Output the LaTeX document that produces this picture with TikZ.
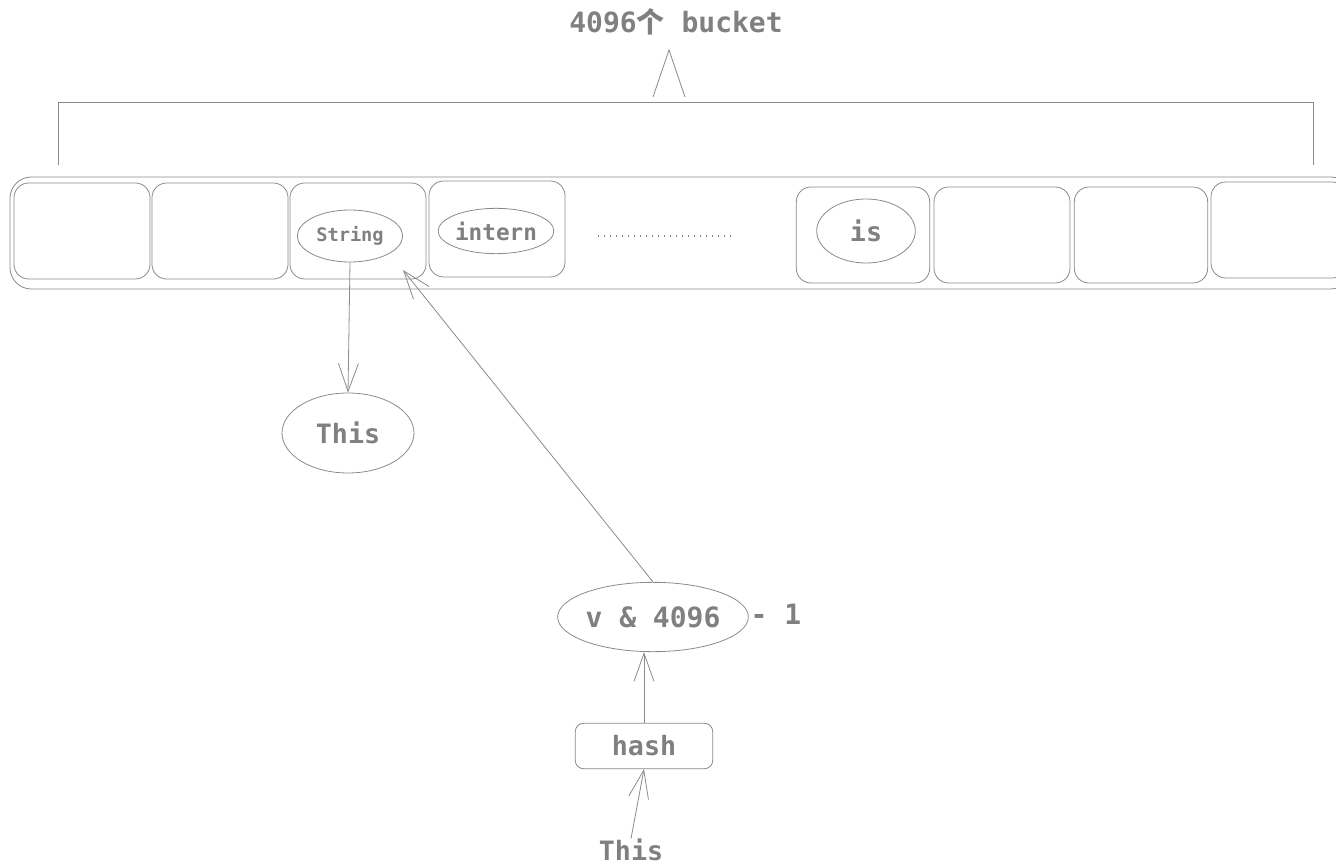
\documentclass[tikz,border=0pt]{standalone}
\usepackage{fontspec}
\setmainfont{DejaVu Sans Mono}
\newfontfamily\cjk{Noto Sans CJK SC}
\usetikzlibrary{shapes.geometric,arrows.meta}

\definecolor{pen}{HTML}{8A8A8A}
\definecolor{ink}{HTML}{808080}

\tikzset{
	cell/.style={draw=pen, rounded corners=11pt, minimum width=102pt, minimum height=72pt, inner sep=0pt},
	word/.style={draw=pen, ellipse, inner sep=0pt, text=ink},
	label/.style={text=ink, inner sep=0pt},
}

\begin{document}
\begin{tikzpicture}[x=0.75pt, y=-0.75pt, line width=0.6pt, >={Straight Barb[length=21pt,width=15pt]}]

	\useasboundingbox (0,0) rectangle (1336,867);

	% bucket count on top
	\node[label, font=\fontsize{21}{24}\bfseries] (count) at (676,22) {4096{\cjk 个} bucket};
	\draw[pen] (653,97) -- (669,50) -- (685,97);
	\coordinate (L) at (58,165);
	\coordinate (R) at (1313,165);
	\draw[pen] (L) -- (58,102) -- (1313,102) -- (R);

	% the table row
	\draw[pen, rounded corners=16pt] (10,177) rectangle (1352,289);

	\node[cell] (b1) at (82,231) {};
	\node[cell] (b2) at (220,231) {};
	\node[cell] (b3) at (358,231) {};
	\node[cell] (b4) at (497,229) {};
	\node[cell, minimum width=100pt] (b5) at (863,235) {};
	\node[cell] (b6) at (1002,235) {};
	\node[cell, minimum width=100pt] (b7) at (1141,235) {};
	\node[cell] (b8) at (1279,230) {};

	\node[word, minimum width=79pt, minimum height=39pt, font=\fontsize{14}{16}\bfseries] (String) at (350,236) {String};
	\node[word, minimum width=84pt, minimum height=34pt, font=\fontsize{17}{20}\bfseries] (intern) at (496,231) {intern};
	\node[word, minimum width=74pt, minimum height=48pt, font=\fontsize{20}{24}\bfseries] (is) at (866,231) {is};

	\draw[ink, line width=1.1pt, dash pattern=on 1.1pt off 3.4pt] (598,236) -- (735,236);

	% lookup
	\node[word, minimum width=99pt, minimum height=60pt, font=\fontsize{20}{24}\bfseries] (found) at (348,433) {This};
	\draw[pen, ->] (String.south) -- (found.north);

	\coordinate (slot) at (403,270);
	\node[word, minimum width=135pt, minimum height=52pt, font=\fontsize{21}{24}\bfseries] (mask) at (653,617) {v \& 4096};
	\node[label, font=\fontsize{21}{24}\bfseries] (minus) at (776,614) {- 1};
	\draw[pen, ->] (mask.north) -- (slot);

	\node[draw=pen, rounded corners=6pt, minimum width=103pt, minimum height=34pt, inner sep=0pt, text=ink, font=\fontsize{20}{24}\bfseries] (hash) at (644,746) {hash};
	\draw[pen, ->] (hash.north) -- (hash.north |- mask.south);

	\node[label, font=\fontsize{20}{24}\bfseries] (key) at (631,850) {This};
	\draw[pen, ->] (key.north) -- (hash.south);

\end{tikzpicture}
\end{document}
